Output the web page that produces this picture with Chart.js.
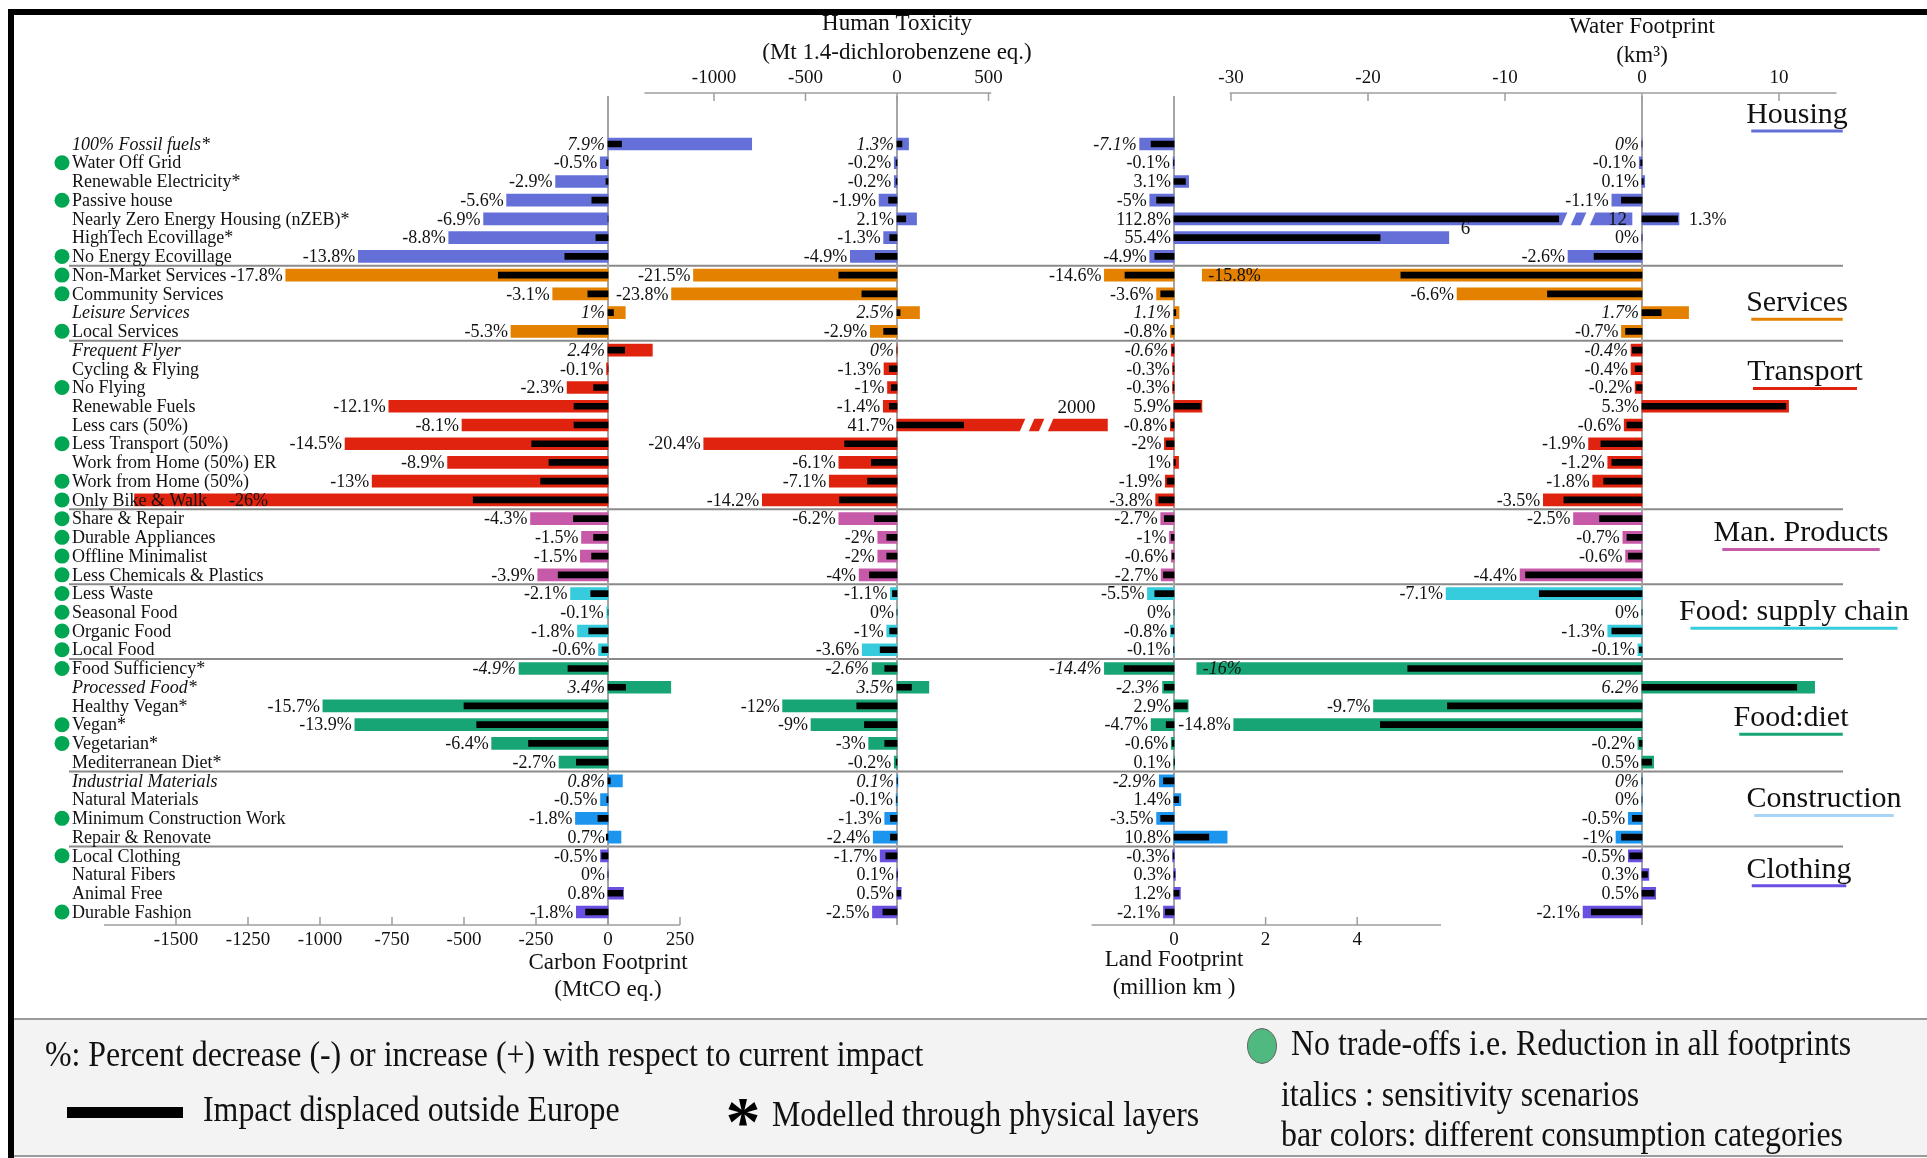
<!DOCTYPE html>
<html>
<head>
<meta charset="utf-8">
<title>Footprint scenarios</title>
<script src="https://cdn.jsdelivr.net/npm/chart.js@4.4.1/dist/chart.umd.min.js"></script>
<style>
  html, body { margin: 0; padding: 0; background: #fff; }
  canvas { display: block; }
</style>
</head>
<body>
<canvas id="fig" width="1927" height="1158"></canvas>
<script>
// ---- data -------------------------------------------------------------
const scenarios = [
  "100% Fossil fuels*", "Water Off Grid", "Renewable Electricity*", "Passive house",
  "Nearly Zero Energy Housing (nZEB)*", "HighTech Ecovillage*", "No Energy Ecovillage",
  "Non-Market Services", "Community Services", "Leisure Services", "Local Services",
  "Frequent Flyer", "Cycling & Flying", "No Flying", "Renewable Fuels", "Less cars (50%)",
  "Less Transport (50%)", "Work from Home (50%) ER", "Work from Home (50%)", "Only Bike & Walk",
  "Share & Repair", "Durable Appliances", "Offline Minimalist", "Less Chemicals & Plastics",
  "Less Waste", "Seasonal Food", "Organic Food", "Local Food",
  "Food Sufficiency*", "Processed Food*", "Healthy Vegan*", "Vegan*", "Vegetarian*", "Mediterranean Diet*",
  "Industrial Materials", "Natural Materials", "Minimum Construction Work", "Repair & Renovate",
  "Local Clothing", "Natural Fibers", "Animal Free", "Durable Fashion"
];
const categoryNames = ["Housing", "Services", "Transport", "Man. Products", "Food: supply chain",
  "Food:diet", "Construction", "Clothing"];
const categorySizes = [7, 4, 9, 4, 4, 6, 4, 4];

const sensitivityRows = [0, 9, 11, 28, 29, 34];   // italic percentages
const italicNameRows = [0, 9, 11, 29, 34];
const noTradeOffRows = [1, 3, 6, 7, 8, 10, 13, 16, 18, 19, 20, 21, 22, 23, 24, 25, 26, 27, 28, 31, 32, 36, 38, 41];

// Carbon footprint (MtCO2 eq.)
const carbonTotal = [499, -27, -182, -352, -432, -553, -867,
  -1119, -192, 60, -337,
  154, -5, -142, -761, -507, -913, -557, -819, -1644,
  -269, -92, -96, -244,
  -130, -4, -106, -33,
  -309, 218, -990, -879, -404, -170,
  50, -26, -113, 45,
  -26, 0, 54, -110];
const carbonOutside = [47, -5, -7, -56, 0, -42, -150,
  -381, -70, 19, -105,
  58, 0, -50, -118, -118, -265, -205, -234, -468,
  -120, -50, -57, -173,
  -60, 0, -67, -21,
  -139, 61, -500, -456, -276, -110,
  8, -4, -35, -6,
  -22, 0, 51, -78];
const carbonPct = [7.9, -0.5, -2.9, -5.6, -6.9, -8.8, -13.8, -17.8, -3.1, 1, -5.3, 2.4, -0.1, -2.3,
  -12.1, -8.1, -14.5, -8.9, -13, -26, -4.3, -1.5, -1.5, -3.9, -2.1, -0.1, -1.8, -0.6, -4.9, 3.4,
  -15.7, -13.9, -6.4, -2.7, 0.8, -0.5, -1.8, 0.7, -0.5, 0, 0.8, -1.8];

// Human toxicity (Mt 1,4-DCB eq.)
const toxTotal = [63, -15, -15, -98, 107, -73, -255,
  -1112, -1232, 123, -146,
  0, -71, -52, -75, 2000, -1056, -318, -370, -736,
  -318, -105, -105, -207,
  -36, 0, -56, -190,
  -136, 174, -625, -470, -155, -15,
  5, -5, -67, -130,
  -92, 3, 23, -134];
const toxOutside = [27, -5, -5, -46, 48, -40, -119,
  -318, -192, 17, -73,
  0, -42, -31, -42, 364, -286, -140, -161, -314,
  -123, -56, -56, -151,
  -25, 0, -40, -92,
  -67, 79, -220, -178, -67, -5,
  2, -2, -36, -36,
  -61, 2, 20, -77];
const toxPct = [1.3, -0.2, -0.2, -1.9, 2.1, -1.3, -4.9, -21.5, -23.8, 2.5, -2.9, 0, -1.3, -1, -1.4,
  41.7, -20.4, -6.1, -7.1, -14.2, -6.2, -2, -2, -4, -1.1, 0, -1, -3.6, -2.6, 3.5, -12, -9, -3, -0.2,
  0.1, -0.1, -1.3, -2.4, -1.7, 0.1, 0.5, -2.5];

// Land footprint (million km2)
const landTotal = [-0.75, -0.02, 0.32, -0.53, 12, 6, -0.53,
  -1.52, -0.38, 0.11, -0.08,
  -0.06, -0.03, -0.03, 0.61, -0.08, -0.21, 0.1, -0.19, -0.40,
  -0.29, -0.10, -0.06, -0.28,
  -0.58, 0, -0.08, -0.01,
  -1.52, -0.25, 0.31, -0.50, -0.06, 0.01,
  -0.32, 0.15, -0.38, 1.16,
  -0.03, 0.03, 0.14, -0.23];
const landOutside = [-0.50, -0.01, 0.25, -0.38, 8.4, 4.5, -0.42,
  -1.07, -0.29, 0.04, -0.05,
  -0.04, -0.02, -0.02, 0.58, -0.06, -0.17, 0.03, -0.15, -0.33,
  -0.21, -0.06, -0.04, -0.23,
  -0.42, 0, -0.06, -0.01,
  -1.09, -0.21, 0.29, -0.17, -0.04, 0.01,
  -0.23, 0.10, -0.29, 0.76,
  -0.02, 0.02, 0.11, -0.19];
const landPct = [-7.1, -0.1, 3.1, -5, 112.8, 55.4, -4.9, -14.6, -3.6, 1.1, -0.8, -0.6, -0.3, -0.3,
  5.9, -0.8, -2, 1, -1.9, -3.8, -2.7, -1, -0.6, -2.7, -5.5, 0, -0.8, -0.1, -14.4, -2.3, 2.9, -4.7,
  -0.6, 0.1, -2.9, 1.4, -3.5, 10.8, -0.3, 0.3, 1.2, -2.1];

// Water footprint (km3)
const waterTotal = [0, -0.2, 0.2, -2.2, 2.7, 0, -5.4,
  -32.1, -13.5, 3.4, -1.5,
  -0.8, -0.8, -0.5, 10.7, -1.3, -3.9, -2.5, -3.6, -7.2,
  -5.0, -1.4, -1.2, -8.9,
  -14.3, 0, -2.5, -0.3,
  -32.5, 12.6, -19.6, -29.8, -0.3, 0.85,
  0, 0, -1.0, -1.9,
  -1.0, 0.5, 1.0, -4.3];
const waterOutside = [0, -0.1, 0.1, -1.5, 2.6, 0, -3.5,
  -17.6, -6.9, 1.4, -1.2,
  -0.7, -0.5, -0.4, 10.5, -1.1, -3.0, -2.2, -2.8, -5.7,
  -3.1, -1.1, -1.0, -8.5,
  -7.5, 0, -2.2, -0.2,
  -17.1, 11.3, -14.2, -19.1, -0.2, 0.7,
  0, 0, -0.7, -1.5,
  -0.9, 0.4, 0.9, -3.7];
const waterPct = [0, -0.1, 0.1, -1.1, 1.3, 0, -2.6, -15.8, -6.6, 1.7, -0.7, -0.4, -0.4, -0.2, 5.3,
  -0.6, -1.9, -1.2, -1.8, -3.5, -2.5, -0.7, -0.6, -4.4, -7.1, 0, -1.3, -0.1, -16, 6.2, -9.7, -14.8,
  -0.2, 0.5, 0, 0, -0.5, -1, -0.5, 0.3, 0.5, -2.1];

const carbonTicks = [-1500, -1250, -1000, -750, -500, -250, 0, 250];
const toxTicks = [-1000, -500, 0, 500];
const landTicks = [0, 2, 4];
const waterTicks = [-30, -20, -10, 0, 10];

// ---- layout & style ---------------------------------------------------
const W = 1927, H = 1158;
const FONT = '"Liberation Serif", "Times New Roman", serif';
const ROW_FIRST = 144, ROW_LAST = 912;
const BAND = (ROW_LAST - ROW_FIRST) / (scenarios.length - 1);
const AXIS_TOP = 93, AXIS_BOTTOM = 925;

const categoryColors = ["#6470d8", "#e48100", "#e0230e", "#c75aa8", "#36cbdd", "#18a576", "#1c95ee", "#6b4fe0"];
const underlineColors = ["#6470d8", "#e48100", "#e0230e", "#c75aa8", "#36cbdd", "#18a576", "#a6d5f7", "#6b4fe0"];
const categoryTitleRow = [-1.55, 8.5, 12.2, 20.8, 25.0, 30.65, 35.0, 38.75];
const categoryTitleX = [1797, 1797, 1805, 1801, 1794, 1791, 1824, 1799];

const panels = {
  carbon: { zero: 608, ppu: 0.288, from: -1750, to: 250, side: "bottom", ticks: carbonTicks,
            total: carbonTotal, outside: carbonOutside, pct: carbonPct,
            title: ["Carbon Footprint", "(MtCO eq.)"], titleY: [963, 990] },
  tox:    { zero: 897, ppu: 0.183, from: -1380, to: 515, side: "top", ticks: toxTicks,
            total: toxTotal, outside: toxOutside, pct: toxPct,
            title: ["Human Toxicity", "(Mt 1.4-dichlorobenzene eq.)"], titleY: [24, 53] },
  land:   { zero: 1174, ppu: 45.8, from: -1.8, to: 5.83, side: "bottom", ticks: landTicks,
            total: landTotal, outside: landOutside, pct: landPct,
            title: ["Land Footprint", "(million km )"], titleY: [960, 988] },
  water:  { zero: 1642, ppu: 13.7, from: -30.1, to: 14.2, side: "top", ticks: waterTicks,
            total: waterTotal, outside: waterOutside, pct: waterPct,
            title: ["Water Footprint", "(km\u00b3)"], titleY: [27, 56] }
};
// bars that run off the panel are cut short and drawn with a break
const breaks = { tox: { cap: 1150, from: 667 }, land: { cap: 10, from: 8.45 } };

const rowCategory = [];
categorySizes.forEach((n, c) => { for (let k = 0; k < n; k++) rowCategory.push(c); });
const rowColors = rowCategory.map(c => categoryColors[c]);

function shown(key, v) {
  return breaks[key] ? Math.min(v, breaks[key].cap) : v;
}

const datasets = [];
const scales = {
  x: { display: false },
  y: { type: "category", display: false, offset: true }
};
for (const [key, p] of Object.entries(panels)) {
  scales[key] = { type: "linear", axis: "x", display: false, bounds: "data",
                  min: -p.zero / p.ppu, max: (W - p.zero) / p.ppu };
  datasets.push({ label: key, data: p.total.map(v => shown(key, v)), xAxisID: key, yAxisID: "y",
                  backgroundColor: rowColors, barThickness: 12, grouped: false, order: 2 });
  datasets.push({ label: key + " outside Europe", data: p.outside.map(v => shown(key, v)), xAxisID: key,
                  yAxisID: "y", backgroundColor: "#000", barThickness: 6, grouped: false, order: 1 });
}

// ---- drawing helpers ----------------------------------------------------
function txt(ctx, s, x, y, font, align, color) {
  ctx.font = font;
  ctx.textAlign = align || "left";
  ctx.textBaseline = "middle";
  ctx.fillStyle = color || "#111";
  ctx.fillText(s, x, y);
}
// legend text is a little narrower than plain Times
function narrow(ctx, s, x, y) {
  ctx.save();
  ctx.translate(x, y);
  ctx.scale(0.91, 1);
  txt(ctx, s, 0, 0, `35px ${FONT}`, "left");
  ctx.restore();
}
function hline(ctx, x0, x1, y) {
  ctx.beginPath(); ctx.moveTo(x0, y); ctx.lineTo(x1, y); ctx.stroke();
}

const figure = {
  id: "figure",
  beforeDraw(chart) {
    const ctx = chart.ctx;
    ctx.save();
    ctx.fillStyle = "#fff";
    ctx.fillRect(0, 0, W, H);
    ctx.fillStyle = "#f3f3f3";
    ctx.fillRect(14, 1019, W - 14, 137);
    ctx.strokeStyle = "#9a9a9a"; ctx.lineWidth = 2;
    hline(ctx, 14, W, 1019);
    hline(ctx, 14, W, 1156);
    ctx.fillStyle = "#000";
    ctx.fillRect(8, 9, W - 8, 6);
    ctx.fillRect(8, 9, 6, H - 9);
    ctx.restore();
  },
  beforeDatasetsDraw(chart) {
    const ctx = chart.ctx, ys = chart.scales.y;
    ctx.save();
    // group separators
    ctx.strokeStyle = "#8a8a8a"; ctx.lineWidth = 2;
    let b = 0;
    categorySizes.slice(0, -1).forEach(n => {
      b += n;
      hline(ctx, 69, 1843, ys.getPixelForValue(b - 0.5));
    });
    // zero lines and axes
    for (const [key, p] of Object.entries(panels)) {
      const s = chart.scales[key];
      const z = s.getPixelForValue(0);
      ctx.strokeStyle = "#a5a5a5"; ctx.lineWidth = 2;
      ctx.beginPath(); ctx.moveTo(z, 96); ctx.lineTo(z, AXIS_BOTTOM); ctx.stroke();

      const y = p.side === "top" ? AXIS_TOP : AXIS_BOTTOM;
      const dir = p.side === "top" ? 1 : -1;
      ctx.strokeStyle = "#9e9e9e"; ctx.lineWidth = 1.5;
      ctx.beginPath();
      ctx.moveTo(s.getPixelForValue(p.from), y);
      ctx.lineTo(s.getPixelForValue(p.to), y);
      p.ticks.forEach(t => {
        const x = s.getPixelForValue(t);
        ctx.moveTo(x, y); ctx.lineTo(x, y + dir * 8);
      });
      ctx.stroke();
      p.ticks.forEach(t => txt(ctx, String(t), s.getPixelForValue(t), y - dir * 15, `19px ${FONT}`, "center"));
      p.title.forEach((t, k) => txt(ctx, t, z, p.titleY[k], `23px ${FONT}`, "center"));
    }
    ctx.restore();
  },
  afterDatasetsDraw(chart) {
    const ctx = chart.ctx, ys = chart.scales.y;
    const rowY = i => ys.getPixelForValue(i);
    ctx.save();

    // breaks in the clipped bars
    for (const [key, br] of Object.entries(breaks)) {
      const s = chart.scales[key];
      panels[key].total.forEach((v, i) => {
        if (v <= br.cap) return;
        const x0 = s.getPixelForValue(br.from), y = rowY(i), h = 8;
        ctx.fillStyle = "#fff";
        [0, 19].forEach(off => {
          ctx.beginPath();
          ctx.moveTo(x0 + off, y + h);
          ctx.lineTo(x0 + off + 9, y + h);
          ctx.lineTo(x0 + off + 16, y - h);
          ctx.lineTo(x0 + off + 7, y - h);
          ctx.closePath();
          ctx.fill();
        });
      });
    }
    // value tags on the long bars
    toxTotal.forEach((v, i) => {
      if (v > breaks.tox.cap)
        txt(ctx, String(v), chart.scales.tox.getPixelForValue(breaks.tox.cap) - 12, rowY(i) - 17, `19px ${FONT}`, "right");
    });
    landTotal.forEach((v, i) => {
      const s = chart.scales.land;
      if (v > breaks.land.cap)
        txt(ctx, String(v), s.getPixelForValue(breaks.land.cap) - 5, rowY(i) + 1, `19px ${FONT}`, "right");
      else if (v >= 5)
        txt(ctx, String(v), s.getPixelForValue(v) + 12, rowY(i) - 9, `19px ${FONT}`, "left");
    });

    // percent labels
    for (const [key, p] of Object.entries(panels)) {
      const s = chart.scales[key];
      p.pct.forEach((pc, i) => {
        const v = p.total[i];
        let x = s.getPixelForValue(Math.min(0, v)) - 3, align = "right";
        if (key === "carbon") x = Math.max(x, 268);
        if (key === "water" && v < -30) { x = s.getPixelForValue(v) + 6; align = "left"; }
        if (key === "water" && landTotal[i] > breaks.land.cap) { x = s.getPixelForValue(Math.max(0, v)) + 10; align = "left"; }
        const it = sensitivityRows.includes(i) ? "italic " : "";
        txt(ctx, pc + "%", x, rowY(i) + 1, `${it}18px ${FONT}`, align);
      });
    }

    // scenario names and no-trade-off dots
    scenarios.forEach((name, i) => {
      const y = rowY(i);
      if (noTradeOffRows.includes(i)) {
        ctx.fillStyle = "#00a651";
        ctx.beginPath(); ctx.arc(62, y, 7.5, 0, Math.PI * 2); ctx.fill();
      }
      const it = italicNameRows.includes(i) ? "italic " : "";
      txt(ctx, name, 72, y + 1, `${it}18px ${FONT}`, "left");
    });

    // category titles on the right
    categoryNames.forEach((name, c) => {
      const y = ys.getPixelForValue(categoryTitleRow[c]);
      const x = categoryTitleX[c];
      ctx.font = `30px ${FONT}`;
      const w = ctx.measureText(name).width;
      txt(ctx, name, x, y, `30px ${FONT}`, "center");
      ctx.strokeStyle = underlineColors[c]; ctx.lineWidth = 3;
      hline(ctx, x - w / 2 + w * 0.05, x + w / 2 - w * 0.05, y + 16);
    });

    // legend
    narrow(ctx, "%: Percent decrease (-) or increase (+) with respect to current impact", 45, 1057);
    ctx.fillStyle = "#000";
    ctx.fillRect(67, 1107, 116, 11);
    narrow(ctx, "Impact displaced outside Europe", 203, 1112);
    txt(ctx, "*", 743, 1127, `bold 70px ${FONT}`, "center", "#000");
    narrow(ctx, "Modelled through physical layers", 772, 1117);
    ctx.fillStyle = "#4fb980"; ctx.strokeStyle = "#666"; ctx.lineWidth = 1;
    ctx.beginPath(); ctx.ellipse(1262, 1046, 14.5, 17.5, 0, 0, Math.PI * 2); ctx.fill(); ctx.stroke();
    narrow(ctx, "No trade-offs i.e. Reduction in all footprints", 1291, 1046);
    narrow(ctx, "italics : sensitivity scenarios", 1281, 1097);
    narrow(ctx, "bar colors: different consumption categories", 1281, 1137);
    ctx.restore();
  }
};

new Chart(document.getElementById("fig"), {
  type: "bar",
  data: { labels: scenarios, datasets },
  options: {
    indexAxis: "y",
    responsive: false,
    maintainAspectRatio: false,
    devicePixelRatio: 1,
    animation: false,
    events: [],
    layout: { padding: { top: ROW_FIRST - BAND / 2, bottom: H - (ROW_LAST + BAND / 2), left: 0, right: 0 } },
    plugins: { legend: { display: false }, tooltip: { enabled: false } },
    scales
  },
  plugins: [figure]
});
</script>
</body>
</html>
